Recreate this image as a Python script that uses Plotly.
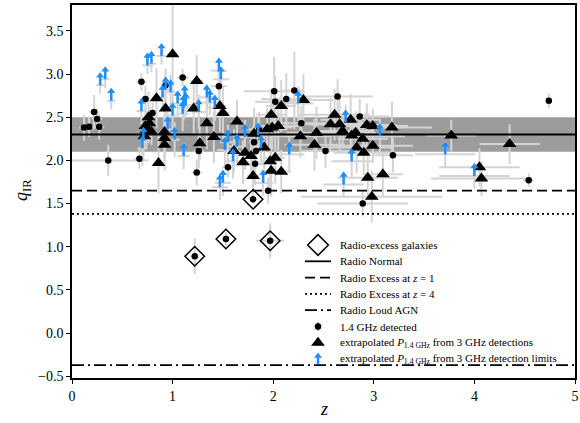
import plotly.graph_objects as go

# ---------------- data ----------------
# 1.4 GHz detected (black dots): z, q, xerr, yerr
dot_z = [0.12, 0.17, 0.22, 0.25, 0.27, 0.36, 0.67, 0.69, 0.73, 0.80, 0.93, 1.10, 1.46, 1.26, 1.24,
         1.55, 1.82, 1.81, 1.83, 1.86, 1.95, 2.01, 2.02, 2.13, 2.21, 2.28, 2.52, 2.64, 2.86, 2.89,
         3.19, 4.54, 4.74, 1.22, 1.53, 1.80, 1.97]
dot_q = [2.38, 2.39, 2.56, 2.48, 2.39, 2.00, 2.02, 2.91, 2.71, 2.55, 2.87, 2.96, 2.86, 2.11, 1.86,
         1.92, 1.96, 2.21, 2.11, 2.36, 1.65, 2.80, 2.68, 2.71, 2.81, 2.43, 2.11, 2.74, 2.51, 1.50,
         2.06, 1.77, 2.69, 0.89, 1.09, 1.55, 1.07]
dot_xerr = [0.05, 0.05, 0.05, 0.05, 0.05, 0.40, 0.05, 0.05, 0.05, 0.05, 0.05, 0.06, 0.08, 0.05, 0.05,
            0.06, 0.08, 0.05, 0.05, 0.05, 0.07, 0.30, 0.20, 0.25, 0.10, 0.30, 0.25, 0.35, 0.30, 0.45,
            0.20, 0.05, 0.03, 0.03, 0.03, 0.03, 0.14]
dot_yerr = [0.15, 0.12, 0.20, 0.12, 0.15, 0.18, 0.12, 0.10, 0.15, 0.12, 0.20, 0.10, 0.20, 0.20, 0.15,
            0.12, 0.25, 0.12, 0.10, 0.20, 0.15, 0.40, 0.30, 0.30, 0.45, 0.20, 0.20, 0.20, 0.20, 0.15,
            0.20, 0.08, 0.08, 0.21, 0.08, 0.05, 0.20]

# extrapolated from 3 GHz detections (triangles)
tri_z = [0.72, 0.73, 0.74, 0.76, 0.77, 0.79, 0.84, 0.86, 0.92, 0.92, 0.92, 0.93, 1.00, 1.21, 1.24,
         1.27, 1.34, 1.41, 1.47, 1.50, 1.61, 1.64, 1.70, 1.72, 1.78, 1.80, 1.81, 1.91, 1.97, 1.98,
         2.02, 2.08, 1.98, 2.08, 1.94, 1.99, 2.05, 2.30, 2.27, 2.41, 2.43, 2.57, 2.61, 2.66, 2.69,
         2.78, 2.77, 2.82, 2.83, 2.89, 2.90, 2.93, 2.99, 2.99, 2.94, 2.98, 3.09, 3.18, 3.77, 4.05,
         4.07, 4.35]
tri_q = [2.28, 2.40, 2.35, 2.50, 2.43, 2.33, 2.72, 1.97, 2.33, 2.26, 2.18, 2.60, 3.23, 2.60, 2.92,
         2.20, 2.43, 2.27, 2.63, 2.55, 2.11, 2.45, 1.98, 2.09, 2.05, 1.82, 2.31, 2.15, 1.99, 1.88,
         2.03, 1.87, 2.53, 2.63, 2.36, 2.38, 2.40, 2.70, 2.28, 2.18, 2.32, 2.42, 2.53, 2.42, 2.34,
         2.29, 2.47, 2.32, 2.15, 2.25, 2.09, 2.41, 2.40, 2.17, 1.80, 1.58, 1.84, 2.38, 2.29, 1.92,
         1.79, 2.19]
tri_xerr = [0.05, 0.05, 0.05, 0.05, 0.05, 0.05, 0.05, 0.05, 0.05, 0.05, 0.05, 0.05, 0.05, 0.05, 0.06,
            0.05, 0.05, 0.06, 0.06, 0.06, 0.06, 0.06, 0.06, 0.06, 0.06, 0.06, 0.06, 0.08, 0.10, 0.10,
            0.10, 0.10, 0.15, 0.15, 0.20, 0.20, 0.20, 0.30, 0.30, 0.30, 0.30, 0.30, 0.35, 0.30, 0.30,
            0.30, 0.30, 0.20, 0.35, 0.25, 0.30, 0.30, 0.35, 0.40, 0.30, 0.70, 0.20, 0.40, 0.25, 0.40,
            0.50, 0.30]
tri_yerr = [0.15, 0.20, 0.20, 0.30, 0.20, 0.15, 0.35, 0.35, 0.30, 0.25, 0.30, 0.30, 0.60, 0.30, 0.30,
            0.20, 0.30, 0.30, 0.30, 0.30, 0.25, 0.25, 0.25, 0.20, 0.20, 0.25, 0.30, 0.25, 0.30, 0.30,
            0.30, 0.25, 0.30, 0.30, 0.25, 0.25, 0.30, 0.30, 0.25, 0.30, 0.30, 0.30, 0.30, 0.30, 0.20,
            0.25, 0.30, 0.25, 0.30, 0.20, 0.25, 0.25, 0.20, 0.20, 0.25, 0.30, 0.25, 0.30, 0.18, 0.22,
            0.20, 0.23]

# extrapolated from 3 GHz detection limits (blue arrows, lower limits): base position
arr_z = [0.28, 0.33, 0.39, 0.69, 0.71, 0.70, 0.75, 0.79, 0.89, 0.90, 0.93, 0.98, 1.05, 1.12, 1.13,
         1.10, 1.11, 1.00, 1.34, 1.37, 1.42, 1.26, 1.11, 1.46, 1.48, 1.55, 1.52, 1.64, 1.50, 1.47,
         1.90, 1.85, 1.88, 2.16, 2.25, 2.70, 2.72, 3.06, 2.78, 3.71, 4.00, 1.72, 1.60, 0.95, 1.02]
arr_q = [2.87, 2.94, 2.69, 2.57, 2.24, 2.14, 3.10, 3.12, 3.21, 2.73, 2.82, 2.79, 2.66, 2.72, 2.64,
         2.54, 2.61, 2.52, 2.73, 2.67, 2.61, 2.56, 2.05, 3.04, 2.94, 2.21, 2.12, 2.16, 1.74, 1.69,
         1.74, 2.29, 2.14, 2.07, 2.66, 1.72, 2.44, 2.28, 1.99, 2.07, 1.82, 2.27, 1.99, 2.36, 2.24]
arr_xerr = [0.04, 0.04, 0.04, 0.05, 0.05, 0.05, 0.05, 0.05, 0.05, 0.05, 0.05, 0.05, 0.06, 0.06, 0.06,
            0.06, 0.06, 0.06, 0.07, 0.07, 0.07, 0.07, 0.06, 0.08, 0.08, 0.08, 0.08, 0.08, 0.08, 0.08,
            0.10, 0.10, 0.10, 0.15, 0.15, 0.20, 0.20, 0.25, 0.20, 0.30, 0.35, 0.08, 0.08, 0.05, 0.05]
arr_yerr = [0.10, 0.10, 0.10, 0.15, 0.20, 0.20, 0.10, 0.10, 0.10, 0.15, 0.15, 0.20, 0.15, 0.15, 0.15,
            0.20, 0.15, 0.20, 0.15, 0.15, 0.15, 0.20, 0.15, 0.10, 0.10, 0.20, 0.20, 0.20, 0.15, 0.15,
            0.15, 0.20, 0.20, 0.20, 0.20, 0.15, 0.20, 0.20, 0.20, 0.15, 0.15, 0.20, 0.20, 0.20, 0.20]

# radio-excess galaxies (open diamonds)
rx_z = [1.22, 1.53, 1.80, 1.97]
rx_q = [0.89, 1.09, 1.55, 1.07]

# reference q_IR levels
Q_NORMAL = 2.30
Q_BAND = [2.10, 2.50]
Q_EXCESS_Z1 = 1.65
Q_EXCESS_Z4 = 1.38
Q_AGN = -0.37
ARROW_LEN = 0.11

X_RANGE = [0, 5]
Y_RANGE = [-0.52, 3.80]
yticks = [-0.5, 0.0, 0.5, 1.0, 1.5, 2.0, 2.5, 3.0, 3.5]
xticks = [0, 1, 2, 3, 4, 5]

legend_labels = [
    "Radio-excess galaxies",
    "Radio Normal",
    "Radio Excess at <i>z</i> = 1",
    "Radio Excess at <i>z</i> = 4",
    "Radio Loud AGN",
    "1.4 GHz detected",
    "extrapolated <i>P</i><sub>1.4 GHz</sub> from 3 GHz detections",
    "extrapolated <i>P</i><sub>1.4 GHz</sub> from 3 GHz detection limits",
]

FONT = "Liberation Serif"
BLUE = "#1e8fff"
ERRC = "#d4d4d4"
DASH = "10px,5px"
DOT = "2px,3px"
DASHDOT = "12px,4px,2px,4px"

# layout geometry (pixels)
W, H = 580, 423
ML, MR, MT, MB = 72, 5, 5, 45
PW, PH = W - ML - MR, H - MT - MB

def px_x(p):
    return (p - ML) / PW

def px_y(p):
    return (H - MB - p) / PH

fig = go.Figure()

# gray error bars for everything (drawn first, beneath markers)
all_z = dot_z + tri_z + arr_z
all_q = dot_q + tri_q + arr_q
all_xe = dot_xerr + tri_xerr + arr_xerr
all_ye = dot_yerr + tri_yerr + arr_yerr
fig.add_trace(go.Scatter(
    x=all_z, y=all_q, mode="markers",
    marker=dict(size=1, color="rgba(0,0,0,0)"),
    error_x=dict(type="data", array=all_xe, color=ERRC, thickness=2, width=0),
    error_y=dict(type="data", array=all_ye, color=ERRC, thickness=2, width=0),
    showlegend=False, hoverinfo="skip"))

# reference lines
for yv, dash in [(Q_NORMAL, "solid"), (Q_EXCESS_Z1, DASH), (Q_EXCESS_Z4, DOT), (Q_AGN, DASHDOT)]:
    fig.add_trace(go.Scatter(x=X_RANGE, y=[yv, yv], mode="lines", showlegend=False,
                             line=dict(color="black", width=1.8, dash=dash), hoverinfo="skip"))

# black dots
fig.add_trace(go.Scatter(x=dot_z, y=dot_q, mode="markers", showlegend=False,
                         marker=dict(symbol="circle", size=6.5, color="black")))
# triangles
fig.add_trace(go.Scatter(x=tri_z, y=tri_q, mode="markers", showlegend=False,
                         marker=dict(symbol="triangle-up", size=12, color="black")))
# blue arrows: shafts + heads
sx, sy = [], []
for z, q in zip(arr_z, arr_q):
    sx += [z, z, None]
    sy += [q, q + ARROW_LEN, None]
fig.add_trace(go.Scatter(x=sx, y=sy, mode="lines", line=dict(color=BLUE, width=2.5),
                         showlegend=False, hoverinfo="skip"))
fig.add_trace(go.Scatter(x=arr_z, y=[q + ARROW_LEN for q in arr_q], mode="markers",
                         showlegend=False,
                         marker=dict(symbol="triangle-up", size=7, color=BLUE)))
# radio-excess diamonds
fig.add_trace(go.Scatter(x=rx_z, y=rx_q, mode="markers", showlegend=False,
                         marker=dict(symbol="diamond-open", size=15, color="black",
                                     line=dict(width=1.5, color="black"))))

fig.add_shape(type="rect", xref="x", yref="y", x0=X_RANGE[0], x1=X_RANGE[1],
              y0=Q_BAND[0], y1=Q_BAND[1], fillcolor="#9c9c9c", line=dict(width=0),
              layer="below")

# ---------------- hand-drawn legend (overlay axes in plot-fraction units) ----------------
LEG_Y0, LEG_STEP = 245.0, 16.3
LEG_SYM_X, LEG_LINE = 318.0, (305.0, 331.0)
LEG_TEXT_X = 338.0
ly = [px_y(LEG_Y0 + i * LEG_STEP) for i in range(len(legend_labels))]
sxc = px_x(LEG_SYM_X)
lx = [px_x(LEG_LINE[0]), px_x(LEG_LINE[1])]
dy = 5.0 / PH

leg = dict(xaxis="x2", yaxis="y2", showlegend=False, hoverinfo="skip")
fig.add_trace(go.Scatter(x=[sxc], y=[ly[0]], mode="markers",
                         marker=dict(symbol="diamond-open", size=16, color="black",
                                     line=dict(width=1.5, color="black")), **leg))
for i, dash in zip([1, 2, 3, 4], ["solid", DASH, DOT, DASHDOT]):
    fig.add_trace(go.Scatter(x=lx, y=[ly[i], ly[i]], mode="lines",
                             line=dict(color="black", width=1.8, dash=dash), **leg))
fig.add_trace(go.Scatter(x=[sxc], y=[ly[5]], mode="markers",
                         marker=dict(symbol="circle", size=6.5, color="black"),
                         error_y=dict(type="constant", value=dy * 0.8, color="black",
                                      thickness=1.2, width=0), **leg))
fig.add_trace(go.Scatter(x=[sxc], y=[ly[6]], mode="markers",
                         marker=dict(symbol="triangle-up", size=12, color="black"), **leg))
fig.add_trace(go.Scatter(x=[sxc, sxc], y=[ly[7] - dy, ly[7] + dy * 0.6], mode="lines",
                         line=dict(color=BLUE, width=2.5), **leg))
fig.add_trace(go.Scatter(x=[sxc], y=[ly[7] + dy * 0.6], mode="markers",
                         marker=dict(symbol="triangle-up", size=7, color=BLUE), **leg))

annotations = []
for yy, lab in zip(ly, legend_labels):
    annotations.append(dict(x=px_x(LEG_TEXT_X), y=yy, xref="paper", yref="paper",
                            text=lab, showarrow=False, xanchor="left", yanchor="middle",
                            font=dict(family=FONT, size=11, color="black")))
# axis titles
annotations.append(dict(x=px_x(324), y=px_y(409), xref="paper", yref="paper",
                        text="<i>z</i>", showarrow=False, xanchor="center", yanchor="middle",
                        font=dict(family=FONT, size=18, color="black")))
annotations.append(dict(x=px_x(22), y=px_y(190), xref="paper", yref="paper",
                        text="<i>q</i><sub>IR</sub>", showarrow=False, textangle=-90,
                        xanchor="center", yanchor="middle",
                        font=dict(family=FONT, size=18, color="black")))

axis_common = dict(showline=True, linecolor="black", linewidth=1.5, mirror=True,
                   ticks="outside", ticklen=4, tickwidth=1.2, tickcolor="black",
                   showgrid=False, zeroline=False, automargin=False,
                   tickfont=dict(family=FONT, size=14, color="black"))
fig.update_xaxes(range=X_RANGE, tickvals=xticks, ticktext=[str(t) for t in xticks],
                 **axis_common)
fig.update_yaxes(range=Y_RANGE, tickvals=yticks,
                 ticktext=[f"{t:.1f}".replace("-", "\u2212") for t in yticks],
                 **axis_common)

fig.update_layout(
    width=W, height=H,
    margin=dict(l=ML, r=MR, t=MT, b=MB),
    plot_bgcolor="white", paper_bgcolor="white",
    font=dict(family=FONT, color="black"),
    showlegend=False,
    annotations=annotations,
    xaxis2=dict(overlaying="x", range=[0, 1], visible=False, fixedrange=True),
    yaxis2=dict(overlaying="y", range=[0, 1], visible=False, fixedrange=True),
)

fig.write_html("out.html", config={"displayModeBar": False},
               post_script="document.body.style.margin='0';document.body.style.overflow='hidden';")
